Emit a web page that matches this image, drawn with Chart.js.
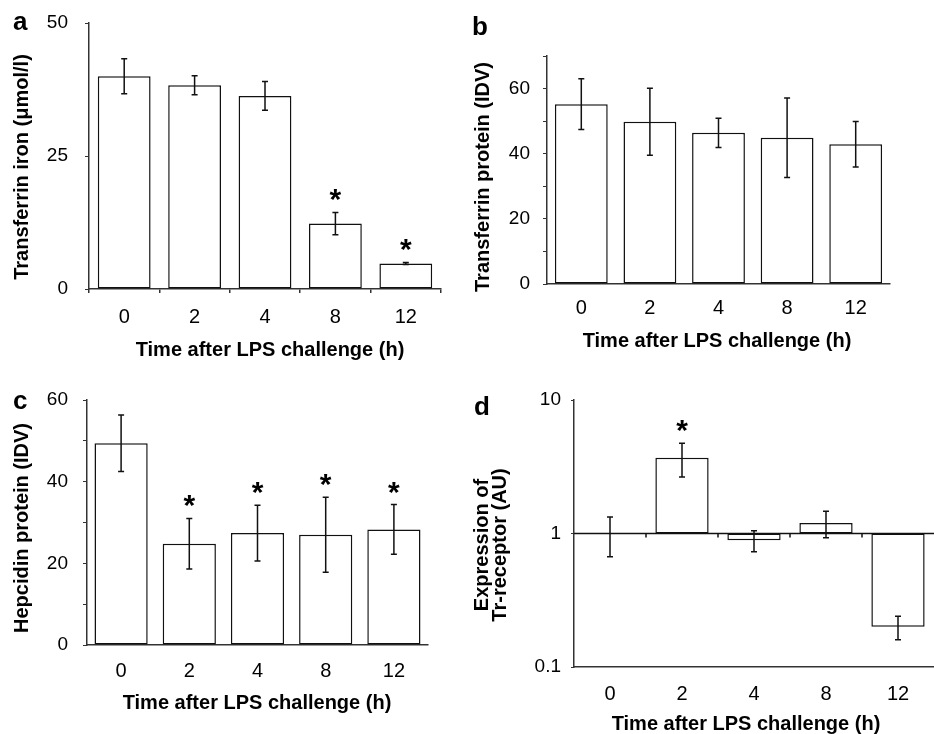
<!DOCTYPE html>
<html>
<head>
<meta charset="utf-8">
<script src="https://cdn.jsdelivr.net/npm/chart.js@4/dist/chart.umd.min.js"></script>
<style>
  body { margin: 0; background: #fff; }
  #wrap { position: relative; width: 934px; height: 734px; }
  canvas { position: absolute; }
</style>
</head>
<body>
<div id="wrap">
  <canvas id="pa" width="467" height="367" style="left:0;top:0"></canvas>
  <canvas id="pb" width="467" height="367" style="left:467px;top:0"></canvas>
  <canvas id="pc" width="467" height="367" style="left:0;top:367px"></canvas>
  <canvas id="pd" width="467" height="367" style="left:467px;top:367px"></canvas>
</div>
<script>
// categories
const hours = ['0', '2', '4', '8', '12'];

// a: transferrin iron
const ironMean = [40.0, 38.3, 36.3, 12.3, 4.8];
const ironErr = [3.3, 1.8, 2.7, 2.1, 0.2];
const ironSig = [false, false, false, true, true];
const ironTicks = [0, 25, 50];

// b: transferrin protein
const tfMean = [55.2, 49.8, 46.4, 44.9, 42.9];
const tfErr = [7.8, 10.3, 4.5, 12.2, 7.0];
const tfSig = [false, false, false, false, false];
const tfTicks = [0, 20, 40, 60];

// c: hepcidin protein
const hepMean = [49.4, 24.8, 27.4, 27.0, 28.3];
const hepErr = [6.9, 6.2, 6.8, 9.2, 6.1];
const hepSig = [false, true, true, true, true];
const hepTicks = [0, 20, 40, 60];

// d: Tr-receptor expression (log scale, bars start at 1)
const trMean = [1.0, 3.7, 0.89, 1.2, 0.2];
const trErr = [0.33, 1.05, 0.16, 0.27, 0.04];
const trSig = [false, true, false, false, false];
const trTicks = [0.1, 1, 10];

const FONT = '"Liberation Sans", Arial, sans-serif';
Chart.defaults.font.family = FONT;
Chart.defaults.color = '#000';

// error bars, asterisks and (for d) the baseline at 1
function marksPlugin(mean, err, sig, baseline) {
  return {
    id: 'marks',
    afterDatasetsDraw(chart) {
      const ctx = chart.ctx;
      const y = chart.scales.y;
      const x = chart.scales.x;
      const area = chart.chartArea;
      ctx.save();
      ctx.strokeStyle = '#111';
      ctx.fillStyle = '#000';
      ctx.lineWidth = 1.5;
      if (baseline !== undefined) {
        const by = y.getPixelForValue(baseline);
        const step = x.getPixelForValue(1) - x.getPixelForValue(0);
        ctx.beginPath();
        ctx.moveTo(area.left, by);
        ctx.lineTo(area.right, by);
        for (let i = 1; i < hours.length; i++) {
          const tx = x.getPixelForValue(i) - step / 2;
          ctx.moveTo(tx, by);
          ctx.lineTo(tx, by + 4);
        }
        ctx.stroke();
      }
      chart.getDatasetMeta(0).data.forEach((bar, i) => {
        const top = y.getPixelForValue(mean[i] + err[i]);
        const bot = y.getPixelForValue(mean[i] - err[i]);
        ctx.beginPath();
        ctx.moveTo(bar.x, top); ctx.lineTo(bar.x, bot);
        ctx.moveTo(bar.x - 3, top); ctx.lineTo(bar.x + 3, top);
        ctx.moveTo(bar.x - 3, bot); ctx.lineTo(bar.x + 3, bot);
        ctx.stroke();
        if (sig[i]) {
          ctx.font = 'bold 30px ' + FONT;
          ctx.textAlign = 'center';
          ctx.textBaseline = 'alphabetic';
          ctx.fillText('*', bar.x, top - 3);
        }
      });
      ctx.restore();
    }
  };
}

// panel letter and axis titles
function textPlugin(t) {
  return {
    id: 'panelText',
    afterDraw(chart) {
      const ctx = chart.ctx;
      ctx.save();
      ctx.fillStyle = '#000';
      ctx.font = 'bold 26px ' + FONT;
      ctx.textAlign = 'left';
      ctx.textBaseline = 'alphabetic';
      ctx.fillText(t.letter, t.lx, t.ly);
      ctx.font = 'bold 20px ' + FONT;
      ctx.textAlign = 'center';
      ctx.textBaseline = 'middle';
      ctx.fillText('Time after LPS challenge (h)', t.xx, t.xy);
      ctx.translate(t.yx, t.yy);
      ctx.rotate(-Math.PI / 2);
      t.yTitle.forEach((line, i) => ctx.fillText(line, 0, i * 18));
      ctx.restore();
    }
  };
}

function makePanel(id, p) {
  const W = 467, H = 367;
  const isLog = p.type === 'logarithmic';
  new Chart(document.getElementById(id), {
    type: 'bar',
    data: {
      labels: hours,
      datasets: [{
        data: isLog ? p.mean.map(v => [1, v]) : p.mean,
        backgroundColor: '#fff',
        borderColor: '#111',
        borderWidth: 1.5,
        borderSkipped: false,
        barPercentage: p.barPct,
        categoryPercentage: 1
      }]
    },
    options: {
      responsive: false,
      animation: false,
      layout: { autoPadding: false, padding: { left: 0, top: p.area.top, right: W - p.area.right, bottom: 0 } },
      plugins: { legend: { display: false }, tooltip: { enabled: false } },
      scales: {
        x: {
          offset: true,
          grid: { offset: true, drawOnChartArea: false, tickLength: 4, color: p.xTickColor, lineWidth: 1.5 },
          border: { color: '#333', width: 1.5 },
          ticks: { padding: p.xPad, font: { size: 20 } },
          afterFit(s) { s.height = H - p.area.bottom; s.paddingLeft = 0; s.paddingRight = 0; }
        },
        y: {
          type: p.type || 'linear',
          min: p.min,
          max: p.max,
          grid: { drawOnChartArea: false, tickLength: p.yTick, color: '#333' },
          border: { color: '#333', width: 1.5 },
          ticks: {
            stepSize: p.step,
            padding: p.yPad,
            font: { size: 19 },
            callback: v => p.labels.includes(v) ? String(v) : ''
          },
          afterBuildTicks(s) { if (isLog) s.ticks = p.labels.map(v => ({ value: v })); },
          afterFit(s) { s.width = p.area.left; s.paddingTop = 0; s.paddingBottom = 0; }
        }
      }
    },
    plugins: [marksPlugin(p.mean, p.err, p.sig, p.baseline), textPlugin(p.text)]
  });
}

makePanel('pa', {
  mean: ironMean, err: ironErr, sig: ironSig, labels: ironTicks,
  min: 0, max: 50, step: 25, barPct: 0.75,
  area: { left: 89, top: 23, right: 441, bottom: 289 },
  xPad: 12, yPad: 17, yTick: 4, xTickColor: '#333',
  text: { letter: 'a', lx: 13, ly: 30, xx: 270, xy: 350, yx: 22, yy: 167, yTitle: ['Transferrin iron (\u03bcmol/l)'] }
});

makePanel('pb', {
  mean: tfMean, err: tfErr, sig: tfSig, labels: tfTicks,
  min: 0, max: 70, step: 10, barPct: 0.77,
  area: { left: 80, top: 56, right: 423, bottom: 284 },
  xPad: 8, yPad: 13, yTick: 4, xTickColor: 'rgba(0,0,0,0)',
  text: { letter: 'b', lx: 5, ly: 35, xx: 250, xy: 341, yx: 16, yy: 177, yTitle: ['Transferrin protein (IDV)'] }
});

makePanel('pc', {
  mean: hepMean, err: hepErr, sig: hepSig, labels: hepTicks,
  min: 0, max: 60, step: 10, barPct: 0.78,
  area: { left: 87, top: 33, right: 428, bottom: 278 },
  xPad: 10, yPad: 15, yTick: 4, xTickColor: 'rgba(0,0,0,0)',
  text: { letter: 'c', lx: 13, ly: 42, xx: 257, xy: 336, yx: 22, yy: 161, yTitle: ['Hepcidin protein (IDV)'] }
});

makePanel('pd', {
  type: 'logarithmic',
  mean: trMean, err: trErr, sig: trSig, labels: trTicks, baseline: 1,
  min: 0.1, max: 10, barPct: 0.74,
  area: { left: 107, top: 33, right: 467, bottom: 300 },
  xPad: 11, yPad: 10, yTick: 3, xTickColor: 'rgba(0,0,0,0)',
  text: { letter: 'd', lx: 7, ly: 48, xx: 279, xy: 357, yx: 15, yy: 178, yTitle: ['Expression of', 'Tr-receptor (AU)'] }
});
</script>
</body>
</html>
